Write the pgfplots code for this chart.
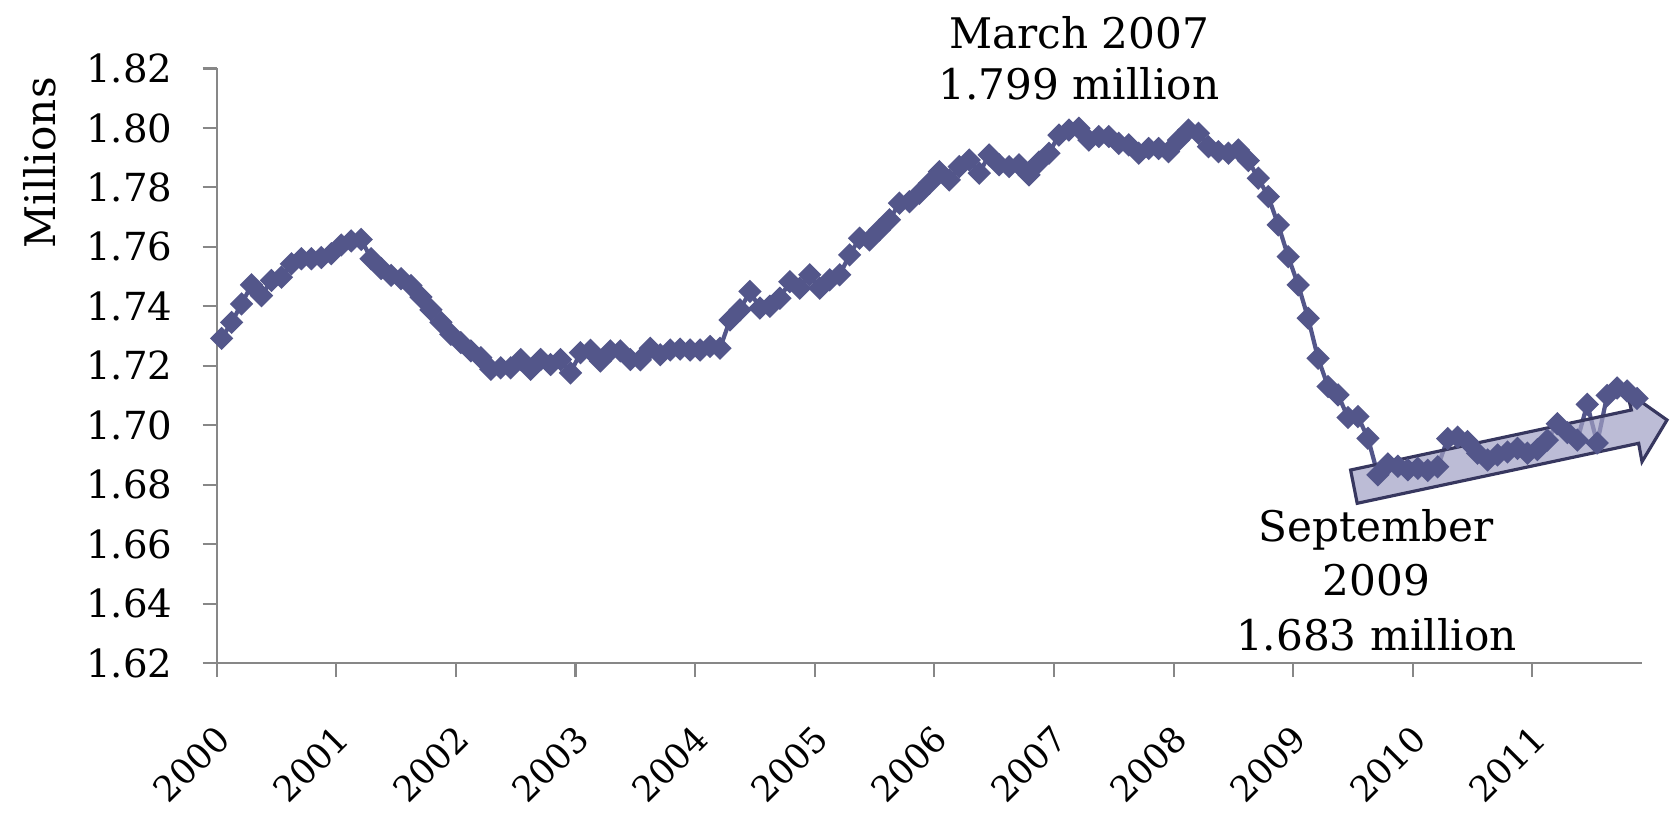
\documentclass[border=0pt]{standalone}
\usepackage{fontspec}
\setmainfont{DejaVu Serif}
\usepackage{pgfplots}
\usepackage{pgfplotstable}
\pgfplotsset{compat=1.18}

\definecolor{linec}{RGB}{83,86,138}
\definecolor{axisgray}{RGB}{135,135,135}
\definecolor{arrowfill}{RGB}{160,160,196}
\definecolor{arrowline}{RGB}{55,55,95}

% monthly values, m = 0 is January 2000
\pgfplotstableread{
m y
0 1.7292
1 1.7346
2 1.7408
3 1.7472
4 1.7436
5 1.7487
6 1.7498
7 1.7543
8 1.7560
9 1.7560
10 1.7564
11 1.7577
12 1.7606
13 1.7620
14 1.7625
15 1.7560
16 1.7527
17 1.7504
18 1.7493
19 1.7470
20 1.7431
21 1.7388
22 1.7346
23 1.7306
24 1.7278
25 1.7250
26 1.7227
27 1.7188
28 1.7193
29 1.7193
30 1.7221
31 1.7188
32 1.7221
33 1.7204
34 1.7221
35 1.7176
36 1.7244
37 1.7252
38 1.7216
39 1.7250
40 1.7250
41 1.7221
42 1.7220
43 1.7259
44 1.7237
45 1.7253
46 1.7256
47 1.7253
48 1.7253
49 1.7265
50 1.7259
51 1.7354
52 1.7388
53 1.7450
54 1.7394
55 1.7400
56 1.7427
57 1.7483
58 1.7461
59 1.7506
60 1.7461
61 1.7489
62 1.7506
63 1.7573
64 1.7629
65 1.7623
66 1.7657
67 1.7691
68 1.7747
69 1.7752
70 1.7780
71 1.7814
72 1.7853
73 1.7825
74 1.7870
75 1.7892
76 1.7848
77 1.7909
78 1.7876
79 1.7870
80 1.7876
81 1.7842
82 1.7885
83 1.7915
84 1.7976
85 1.7993
86 1.7999
87 1.7959
88 1.7971
89 1.7971
90 1.7948
91 1.7943
92 1.7915
93 1.7931
94 1.7931
95 1.7920
96 1.7959
97 1.7993
98 1.7982
99 1.7937
100 1.7920
101 1.7915
102 1.7926
103 1.7890
104 1.7831
105 1.7769
106 1.7674
107 1.7567
108 1.7472
109 1.7360
110 1.7225
111 1.7130
112 1.7102
113 1.7026
114 1.7029
115 1.6956
116 1.6833
117 1.6870
118 1.6862
119 1.6850
120 1.6855
121 1.6848
122 1.6860
123 1.6955
124 1.6960
125 1.6945
126 1.6906
127 1.6883
128 1.6900
129 1.6910
130 1.6922
131 1.6906
132 1.6918
133 1.6950
134 1.7005
135 1.6975
136 1.6950
137 1.7070
138 1.6940
139 1.7100
140 1.7125
141 1.7115
142 1.7090
}\jobs

\begin{document}
\begin{tikzpicture}
\begin{axis}[
    scale only axis,
    width=142.53mm,
    height=59.45mm,
    xmin=2000, xmax=2011.9167,
    ymin=1.62, ymax=1.82,
    xtick={2000,2001,2002,2003,2004,2005,2006,2007,2008,2009,2010,2011},
    xticklabels={2000,2001,2002,2003,2004,2005,2006,2007,2008,2009,2010,2011},
    ytick={1.62,1.64,1.66,1.68,1.70,1.72,1.74,1.76,1.78,1.80,1.82},
    yticklabel style={font=\fontsize{11}{13}\selectfont, xshift=-1.8mm, /pgf/number format/.cd, fixed, fixed zerofill, precision=2, assume math mode=true},
    xticklabel style={font=\fontsize{10}{12}\selectfont, xshift=-0.3mm, yshift=-4.5mm, rotate=45, anchor=north east, inner sep=0pt},
    axis lines*=left,
    axis line style={axisgray, line width=0.6pt},
    tick style={axisgray, line width=0.6pt},
    tick align=outside,
    major tick length=1.4mm,
    ylabel={Millions},
    ylabel style={at={(axis description cs:-0.124,0.841)}, anchor=center, font=\fontsize{12}{14}\selectfont},
    clip=false,
]
\path (axis description cs:-0.1520,-0.2557) rectangle (axis description cs:1.0245,1.1152);
\addplot[color=linec, line width=1.2pt, mark=square*, mark size=1.75pt,
    mark options={rotate=45, solid, fill=linec}]
    table[x expr=2000+(\thisrow{m}+0.5)/12, y=y] {\jobs};
\draw[arrowline, line width=0.9pt, fill=arrowfill, fill opacity=0.7]
    (axis cs:2009.480,1.68493) -- (axis cs:2011.827,1.70511) -- (axis cs:2011.790,1.71127)
    -- (axis cs:2012.125,1.70175) -- (axis cs:2011.916,1.68772) -- (axis cs:2011.888,1.69391)
    -- (axis cs:2009.535,1.67373) -- cycle;
\node[align=center, font=\fontsize{12}{14.5}\selectfont] at (axis cs:2007.21,1.8235) {March 2007\\1.799 million};
\node[align=center, font=\fontsize{12}{15.5}\selectfont] at (axis cs:2009.695,1.6479) {September\\2009\\1.683 million};
\end{axis}
\end{tikzpicture}
\end{document}
